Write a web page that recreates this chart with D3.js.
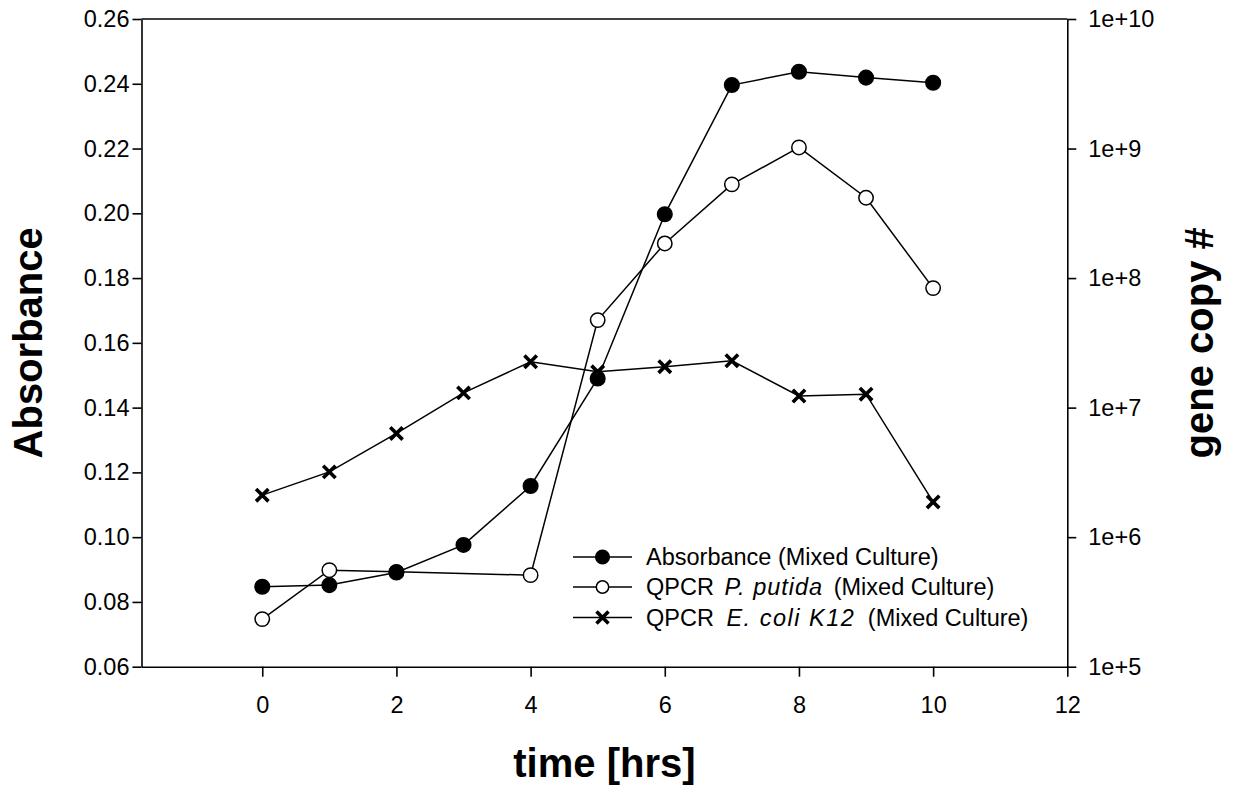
<!DOCTYPE html>
<html>
<head>
<meta charset="utf-8">
<script src="https://cdn.jsdelivr.net/npm/d3@7"></script>
<style>
  body { margin: 0; background: #fff; }
  svg { font-family: "Liberation Sans", Arial, sans-serif; }
  .axis path, .axis line { stroke: #000; stroke-width: 1.6px; }
  .axis text { font-size: 23.5px; fill: #000; }
</style>
</head>
<body>
<svg width="1241" height="794"></svg>
<script>
// data
const hours = [0, 1, 2, 3, 4, 5, 6, 7, 8, 9, 10];
const absorbance = [0.0847, 0.0852, 0.0891, 0.0976, 0.1158, 0.149, 0.1997, 0.2396, 0.2437, 0.2419, 0.2403];
const putidaHours = [0, 1, 2, 4, 5, 6, 7, 8, 9, 10];
const putidaCopies = [2.33e5, 5.56e5, 5.4e5, 5.09e5, 4.74e7, 1.85e8, 5.29e8, 1.02e9, 4.17e8, 8.37e7];
const ecoliCopies = [2.11e6, 3.19e6, 6.32e6, 1.3e7, 2.26e7, 1.89e7, 2.07e7, 2.3e7, 1.23e7, 1.27e7, 1.87e6];

const xTicks = [0, 2, 4, 6, 8, 10, 12];
const leftTicks = [0.06, 0.08, 0.1, 0.12, 0.14, 0.16, 0.18, 0.2, 0.22, 0.24, 0.26];
const rightTicks = [1e5, 1e6, 1e7, 1e8, 1e9, 1e10];

const margin = { top: 19, left: 141.5 };
const content_width = 925.8;
const content_height = 647.7;

const svg = d3.select("svg");
const g = svg.append("g")
  .attr("transform", `translate(${margin.left},${margin.top})`);

// scales
const x = d3.scaleLinear().domain([-1.8, 12]).range([0, content_width]);
const y = d3.scaleLinear().domain([0.06, 0.26]).range([content_height, 0]);
const yR = d3.scaleLog().domain([1e5, 1e10]).range([content_height, 0]);

// frame top line
g.append("line")
  .attr("x1", 0).attr("x2", content_width)
  .attr("y1", 0).attr("y2", 0)
  .attr("stroke", "#000").attr("stroke-width", 1.6);

// axes
const leftAxis = d3.axisLeft(y)
  .tickValues(leftTicks)
  .tickSizeInner(9)
  .tickSizeOuter(0)
  .tickPadding(3)
  .tickFormat(d3.format(".2f"));
g.append("g").attr("class", "left axis").call(leftAxis);

const rightAxis = d3.axisRight(yR)
  .tickValues(rightTicks)
  .tickSizeInner(9)
  .tickSizeOuter(0)
  .tickPadding(12)
  .tickFormat(d => "1e+" + Math.round(Math.log10(d)));
g.append("g")
  .attr("class", "right axis")
  .attr("transform", `translate(${content_width},0)`)
  .call(rightAxis);

const bottomAxis = d3.axisBottom(x)
  .tickValues(xTicks)
  .tickSizeInner(10)
  .tickSizeOuter(0)
  .tickPadding(20);
g.append("g")
  .attr("class", "bottom axis")
  .attr("transform", `translate(0,${content_height})`)
  .call(bottomAxis);

// axis titles
g.append("text")
  .attr("x", content_width / 2)
  .attr("y", 758)
  .attr("font-size", "40px")
  .attr("font-weight", "bold")
  .attr("text-anchor", "middle")
  .text("time [hrs]");

g.append("text")
  .attr("transform", `translate(${41.5 - margin.left},${content_height / 2}) rotate(-90)`)
  .attr("font-size", "40px")
  .attr("font-weight", "bold")
  .attr("text-anchor", "middle")
  .text("Absorbance");

g.append("text")
  .attr("transform", `translate(${1213 - margin.left},${content_height / 2}) rotate(-90)`)
  .attr("font-size", "40px")
  .attr("font-weight", "bold")
  .attr("text-anchor", "middle")
  .text("gene copy #");

// marker helpers
function circleMark(sel, cx, cy, r, filled) {
  sel.append("circle")
    .attr("cx", cx).attr("cy", cy).attr("r", r)
    .attr("fill", filled ? "#000" : "#fff")
    .attr("stroke", "#000")
    .attr("stroke-width", 1.5);
}
function crossMark(sel, cx, cy, s) {
  sel.append("path")
    .attr("d", `M${cx - s},${cy - s}L${cx + s},${cy + s}M${cx - s},${cy + s}L${cx + s},${cy - s}`)
    .attr("stroke", "#000")
    .attr("stroke-width", 3.6)
    .attr("fill", "none");
}

const lineStyle = p => p.attr("fill", "none").attr("stroke", "#000").attr("stroke-width", 1.5);

// P. putida (open circles, right axis)
const putida = putidaHours.map((h, i) => [h, putidaCopies[i]]);
g.append("path")
  .datum(putida)
  .call(lineStyle)
  .attr("d", d3.line().x(d => x(d[0])).y(d => yR(d[1])));
putida.forEach(d => circleMark(g, x(d[0]), yR(d[1]), 7.2, false));

// E. coli (crosses, right axis)
const ecoli = hours.map((h, i) => [h, ecoliCopies[i]]);
g.append("path")
  .datum(ecoli)
  .call(lineStyle)
  .attr("d", d3.line().x(d => x(d[0])).y(d => yR(d[1])));
ecoli.forEach(d => crossMark(g, x(d[0]), yR(d[1]), 6.2));

// absorbance (filled circles, left axis)
const abs = hours.map((h, i) => [h, absorbance[i]]);
g.append("path")
  .datum(abs)
  .call(lineStyle)
  .attr("d", d3.line().x(d => x(d[0])).y(d => y(d[1])));
abs.forEach(d => circleMark(g, x(d[0]), y(d[1]), 7.3, true));

// legend
const legend = svg.append("g").attr("transform", "translate(573,0)");
const legendRows = [557, 587, 617.5];

legendRows.forEach((ly, i) => {
  legend.append("line")
    .attr("x1", 0).attr("x2", 59)
    .attr("y1", ly).attr("y2", ly)
    .attr("stroke", "#000").attr("stroke-width", 1.5);
  if (i === 0) circleMark(legend, 29.5, ly, 6.8, true);
  if (i === 1) circleMark(legend, 29.5, ly, 6.2, false);
  if (i === 2) crossMark(legend, 29.5, ly, 6);
});

const legendText = legend.selectAll("text.lbl")
  .data(legendRows)
  .enter()
  .append("text")
  .attr("class", "lbl")
  .attr("x", 73)
  .attr("y", d => d)
  .attr("dy", "0.35em")
  .attr("font-size", "23.5px");

legendText.filter((d, i) => i === 0).text("Absorbance (Mixed Culture)");

// italic names sit a little wider in the original
const t1 = legendText.filter((d, i) => i === 1);
t1.append("tspan").text("QPCR ");
t1.append("tspan").attr("dx", 4).attr("font-style", "italic").attr("letter-spacing", "1px").text("P. putida");
t1.append("tspan").attr("dx", 4).text(" (Mixed Culture)");

const t2 = legendText.filter((d, i) => i === 2);
t2.append("tspan").text("QPCR ");
t2.append("tspan").attr("dx", 6).attr("font-style", "italic").attr("letter-spacing", "1.5px").text("E. coli K12");
t2.append("tspan").attr("dx", 6).text(" (Mixed Culture)");
</script>
</body>
</html>
